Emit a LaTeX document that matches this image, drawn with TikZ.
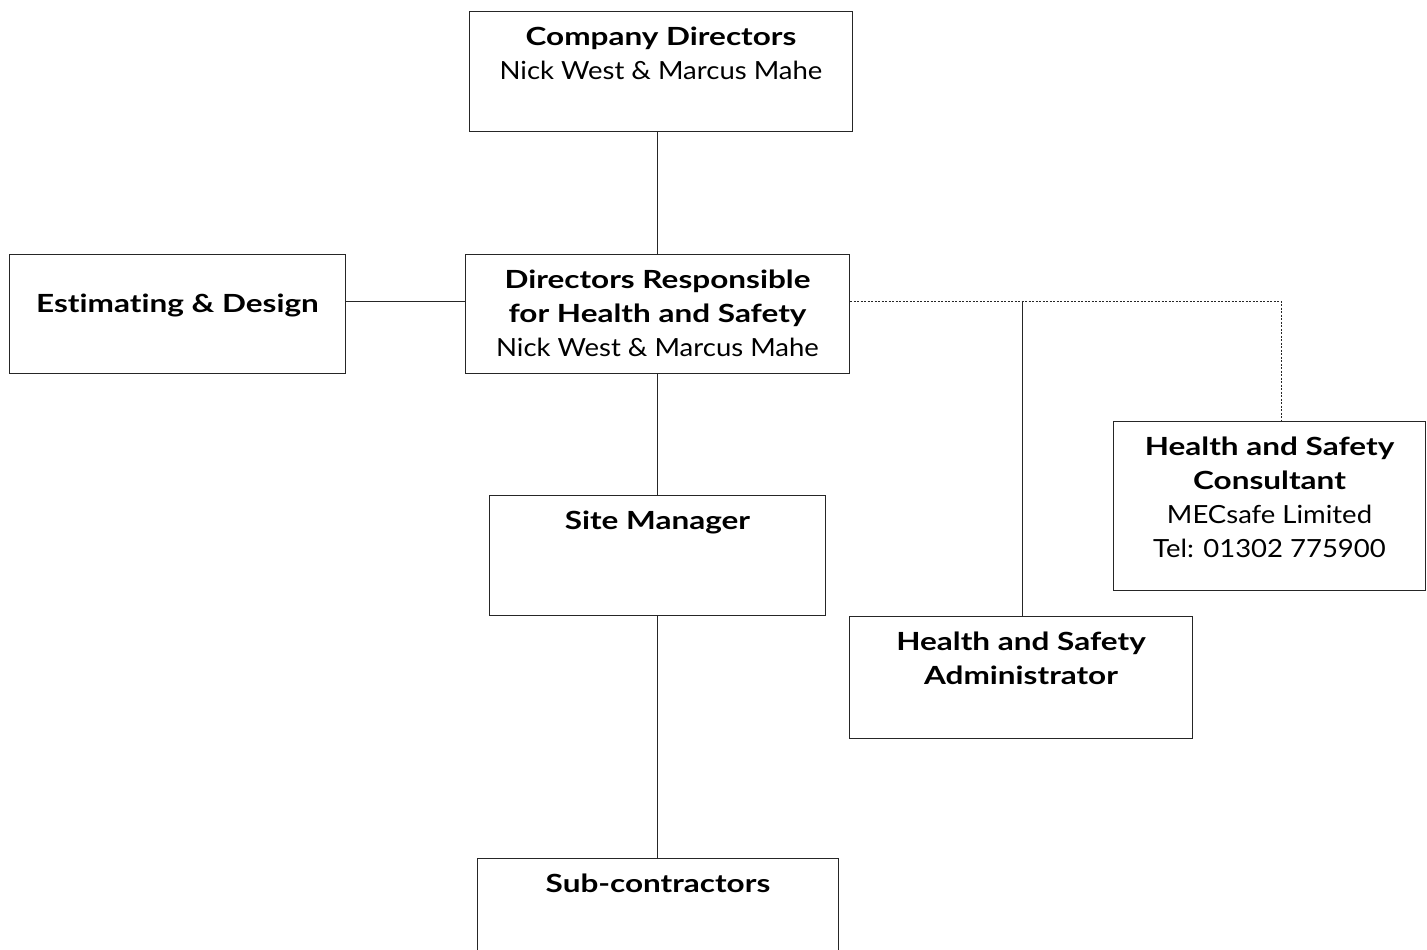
\documentclass[tikz,border=0pt]{standalone}
\usepackage{fontspec}
\setmainfont{Lato}[FakeStretch=1.1, Ligatures=NoCommon, BoldFeatures={FakeStretch=1.26}]
\begin{document}
\begin{tikzpicture}[x=1pt,y=-1pt,
  box/.style={draw=black!85, line width=1pt, inner sep=0pt, anchor=north west},
  txtbase/.style={align=center, inner sep=0pt, font=\fontsize{25}{34}\selectfont},
  txt/.style={txtbase, anchor=north, yshift=-16pt},
  link/.style={draw=black!85, line width=1pt},
  dotlink/.style={draw=black!85, line width=0.9pt, dash pattern=on 2pt off 1.5pt}]
\useasboundingbox (0,0) rectangle (1427,950);
% boxes
\node[box, minimum width=383pt, minimum height=120pt] (cd) at (469,11) {};
\node[box, minimum width=384pt, minimum height=119pt] (dr) at (465,254) {};
\node[box, minimum width=336pt, minimum height=119pt] (ed) at (9,254) {};
\node[box, minimum width=336pt, minimum height=120pt] (sm) at (489,495) {};
\node[box, minimum width=361pt, minimum height=100pt] (sc) at (477,858) {};
\node[box, minimum width=343pt, minimum height=122pt] (hsa) at (849,616) {};
\node[box, minimum width=312pt, minimum height=169pt] (hsc) at (1113,421) {};
% texts
\node[txt] (cdt) at (cd.north) {\textbf{Company Directors}\\Nick West \& Marcus Mahe};
\node[txt] (drt) at (dr.north) {\textbf{Directors Responsible}\\\textbf{for Health and Safety}\\Nick West \& Marcus Mahe};
\node[txtbase, anchor=center] (edt) at ([yshift=9pt]ed.center) {\textbf{Estimating \& Design}};
\node[txt] (smt) at (sm.north) {\textbf{Site Manager}};
\node[txt] (sct) at (sc.north) {\textbf{Sub-contractors}};
\node[txt] (hsat) at (hsa.north) {\textbf{Health and Safety}\\\textbf{Administrator}};
\node[txt] (hsct) at (hsc.north) {\textbf{Health and Safety}\\\textbf{Consultant}\\MECsafe Limited\\Tel: 01302 775900};
% connectors
\coordinate (j1) at (1022,301);
\coordinate (j2) at (1281,301);
\draw[link] (cd.south -| 657,0) -- (dr.north -| 657,0);
\draw[link] (ed.east |- 0,301) -- (dr.west |- 0,301);
\draw[link] (dr.south -| 657,0) -- (sm.north -| 657,0);
\draw[link] (sm.south -| 657,0) -- (sc.north -| 657,0);
\draw[dotlink] (dr.east |- 0,301) -- (j2) -- (hsc.north -| j2);
\draw[link] (j1) -- (hsa.north -| j1);
\end{tikzpicture}
\end{document}
